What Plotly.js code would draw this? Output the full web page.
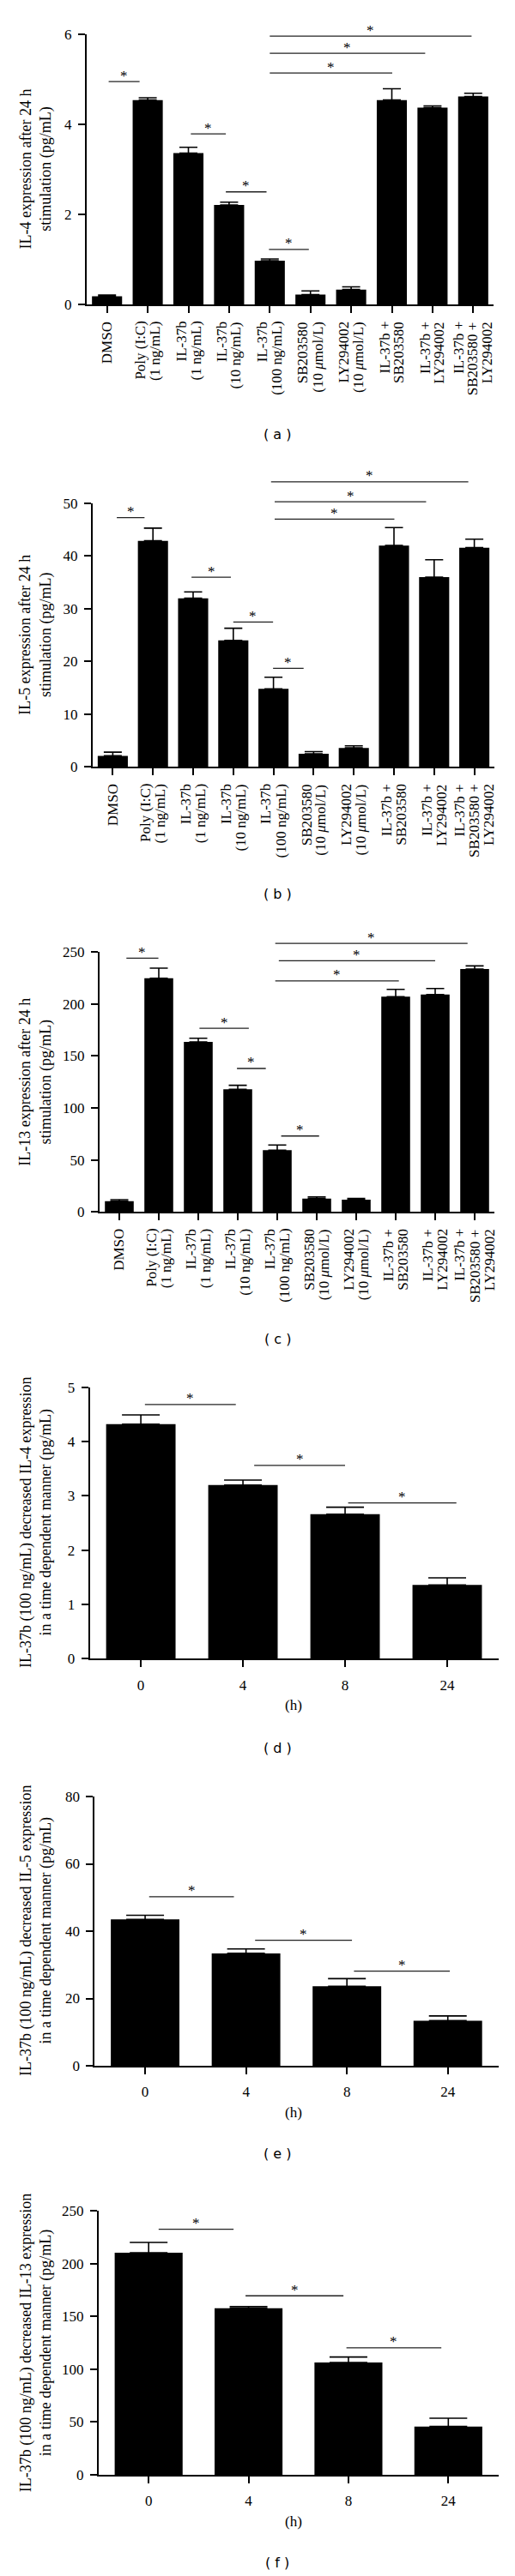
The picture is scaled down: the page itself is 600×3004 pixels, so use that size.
<!DOCTYPE html>
<html>
<head>
<meta charset="utf-8">
<script src="https://cdn.plot.ly/plotly-3.0.1.min.js"></script>
<style>html,body{margin:0;padding:0;background:#fff;}</style>
</head>
<body>
<div id="chart" style="width:600px;height:3004px;"></div>
<script>
// ---------- data ----------
const treatCats = [
  'DMSO',
  'Poly (I:C)<br>(1 ng/mL)',
  'IL-37b<br>(1 ng/mL)',
  'IL-37b<br>(10 ng/mL)',
  'IL-37b<br>(100 ng/mL)',
  'SB203580<br>(10 <i>μ</i>mol/L)',
  'LY294002<br>(10 <i>μ</i>mol/L)',
  'IL-37b +<br>SB203580',
  'IL-37b +<br>LY294002',
  'IL-37b +<br>SB203580 +<br>LY294002'
];
const il4Mean  = [0.18, 4.54, 3.36, 2.21, 0.97, 0.22, 0.33, 4.54, 4.37, 4.62];
const il4Err   = [0.03, 0.05, 0.13, 0.06, 0.04, 0.08, 0.06, 0.25, 0.04, 0.07];
const il5Mean  = [2.1, 42.9, 32.0, 24.0, 14.8, 2.5, 3.6, 42.0, 36.0, 41.6];
const il5Err   = [0.7, 2.4, 1.2, 2.3, 2.2, 0.4, 0.4, 3.4, 3.3, 1.6];
const il13Mean = [10.4, 224.7, 163.4, 117.9, 59.3, 12.9, 11.8, 206.9, 209.0, 233.5];
const il13Err  = [1.4, 9.6, 3.6, 3.8, 5.0, 1.6, 1.1, 7.1, 5.8, 3.0];

const timeCats = ['0', '4', '8', '24'];
const tIl4Mean  = [4.32, 3.20, 2.66, 1.36];
const tIl4Err   = [0.17, 0.09, 0.13, 0.13];
const tIl5Mean  = [43.5, 33.4, 23.6, 13.4];
const tIl5Err   = [1.2, 1.3, 2.3, 1.4];
const tIl13Mean = [210.4, 157.9, 106.4, 45.8];
const tIl13Err  = [9.8, 1.6, 5.2, 7.8];

// significance brackets: [from category index, to category index, value]
const sigIl4  = [[0.04,0.80,4.95],[2.06,2.92,3.79],[2.92,3.92,2.50],[3.98,4.96,1.22],[4.0,7.01,5.14],[4.0,7.82,5.58],[4.0,8.96,5.96]];
const sigIl5  = [[0.10,0.79,47.3],[1.96,2.94,36.0],[3.0,3.99,27.5],[3.99,4.75,18.7],[4.03,7.01,47.0],[4.03,7.80,50.3],[3.94,8.85,54.1]];
const sigIl13 = [[0.18,0.99,244],[2.03,3.28,176.6],[2.98,3.71,137.9],[4.10,5.06,73],[3.95,7.08,222],[4.04,8.0,241.5],[3.95,8.82,258.2]];
const sigT4   = [[0.04,0.93,4.68],[1.11,2.0,3.56],[2.03,3.09,2.87]];
const sigT5   = [[0.04,0.88,50.2],[1.09,2.05,37.3],[2.07,3.02,28.1]];
const sigT13  = [[0.10,0.85,232.6],[0.97,1.95,169.6],[1.98,2.93,120.3]];

const yTitles = [
  'IL-4 expression after 24 h<br>stimulation (pg/mL)',
  'IL-5 expression after 24 h<br>stimulation (pg/mL)',
  'IL-13 expression after 24 h<br>stimulation (pg/mL)',
  'IL-37b (100 ng/mL) decreased IL-4 expression<br>in a time dependent manner (pg/mL)',
  'IL-37b (100 ng/mL) decreased IL-5 expression<br>in a time dependent manner (pg/mL)',
  'IL-37b (100 ng/mL) decreased IL-13 expression<br>in a time dependent manner (pg/mL)'
];
const panelLabels = ['( a )', '( b )', '( c )', '( d )', '( e )', '( f )'];
const yTop   = [6, 50, 250, 5, 80, 250];
const yDtick = [2, 10, 50, 1, 20, 50];

// ---------- layout geometry (pixels) ----------
const W = 600, H = 3004;
const panels = [
  {cats: treatCats, mean: il4Mean,  err: il4Err,  sig: sigIl4,  L:101,   R:575,   T:40,     B:355,    bw:0.74, cap:10.5, rot:true,  label:506.7,  h:null},
  {cats: treatCats, mean: il5Mean,  err: il5Err,  sig: sigIl5,  L:108,   R:576,   T:587,    B:894.3,  bw:0.75, cap:10.5, rot:true,  label:1042.7, h:null},
  {cats: treatCats, mean: il13Mean, err: il13Err, sig: sigIl13, L:116,   R:576,   T:1110,   B:1413.3, bw:0.73, cap:10.5, rot:true,  label:1561.7, h:null},
  {cats: timeCats,  mean: tIl4Mean, err: tIl4Err, sig: sigT4,   L:104.6, R:580.5, T:1617.7, B:1934.3, bw:0.68, cap:22,   rot:false, label:2038.3, h:1988},
  {cats: timeCats,  mean: tIl5Mean, err: tIl5Err, sig: sigT5,   L:110.3, R:580.5, T:2095,   B:2409,   bw:0.68, cap:22,   rot:false, label:2511.7, h:2463},
  {cats: timeCats,  mean: tIl13Mean,err: tIl13Err,sig: sigT13,  L:115,   R:580.5, T:2578.3, B:2886,   bw:0.68, cap:22,   rot:false, label:2988.3, h:2940}
];

const serif = 'Liberation Serif, Times New Roman, serif';
const traces = [];
const layout = {
  width: W, height: H,
  margin: {l:0, r:0, t:0, b:0},
  paper_bgcolor: '#fff', plot_bgcolor: '#fff',
  showlegend: false,
  font: {family: serif, size: 17, color: '#000'},
  shapes: [], annotations: []
};

panels.forEach((p, i) => {
  const n = i + 1;
  const xa = n === 1 ? 'x' : 'x' + n;
  const ya = n === 1 ? 'y' : 'y' + n;
  const xKey = n === 1 ? 'xaxis' : 'xaxis' + n;
  const yKey = n === 1 ? 'yaxis' : 'yaxis' + n;
  const nc = p.cats.length;
  const xr = [-0.5, nc - 0.5];
  const yr = [0, yTop[i]];
  // data -> pixel helpers for this panel
  const xPx = v => p.L + (v - xr[0]) / (xr[1] - xr[0]) * (p.R - p.L);
  const yPx = v => p.B - (v - yr[0]) / (yr[1] - yr[0]) * (p.B - p.T);

  traces.push({
    type: 'bar', x: p.cats, y: p.mean, xaxis: xa, yaxis: ya,
    width: p.bw,
    marker: {color: '#000', line: {width: 0}},
    error_y: {type: 'data', symmetric: false, array: p.err, arrayminus: p.err.map(() => 0),
              color: '#000', thickness: 1.6, width: p.cap},
    hoverinfo: 'skip'
  });

  layout[xKey] = {
    domain: [p.L / W, p.R / W], anchor: ya, type: 'category',
    range: xr, showline: true, linewidth: 2, linecolor: '#000',
    ticks: 'outside', ticklen: 8, tickwidth: 2, tickcolor: '#000',
    showticklabels: !p.rot, showgrid: false, zeroline: false,
    ticklabelstandoff: 6,
    tickfont: {family: serif, size: 17, color: '#000'}, fixedrange: true
  };
  layout[yKey] = {
    domain: [1 - p.B / H, 1 - p.T / H], anchor: xa,
    range: yr, tick0: 0, dtick: yDtick[i],
    showline: true, linewidth: 2, linecolor: '#000',
    ticks: 'outside', ticklen: 8, tickwidth: 2, tickcolor: '#000',
    showgrid: false, zeroline: false, ticklabelstandoff: 4,
    tickfont: {family: serif, size: 17, color: '#000'}, fixedrange: true
  };

  // rotated, tightly spaced category labels (one annotation per line)
  if (p.rot) {
    const lineGap = 17;
    p.cats.forEach((c, k) => {
      const lines = c.split('<br>');
      const m = lines.length;
      lines.forEach((ln, j) => {
        layout.annotations.push({
          xref: 'paper', yref: 'paper',
          x: (xPx(k) + (j - (m - 1) / 2) * lineGap) / W,
          y: 1 - (p.B + 19) / H,
          text: ln, textangle: -90, showarrow: false,
          xanchor: 'center', yanchor: 'top', borderpad: 0,
          font: {family: serif, size: 17, color: '#000'}
        });
      });
    });
  }

  // significance brackets + stars (paper refs so nothing is clipped or hidden)
  p.sig.forEach(s => {
    const x0 = xPx(s[0]), x1 = xPx(s[1]), yy = yPx(s[2]);
    layout.shapes.push({
      type: 'line', xref: 'paper', yref: 'paper',
      x0: x0 / W, x1: x1 / W, y0: 1 - yy / H, y1: 1 - yy / H,
      line: {color: '#222', width: 1.3}
    });
    layout.annotations.push({
      xref: 'paper', yref: 'paper', x: ((x0 + x1) / 2) / W, y: 1 - yy / H,
      text: '*', showarrow: false, xanchor: 'center', yanchor: 'middle', yshift: 7,
      font: {family: serif, size: 17, color: '#000'}
    });
  });

  // y-axis title
  layout.annotations.push({
    xref: 'paper', yref: 'paper', x: (i < 3 ? 41 : 42) / W, y: 1 - ((p.T + p.B) / 2) / H,
    text: yTitles[i], textangle: -90, showarrow: false,
    xanchor: 'center', yanchor: 'middle', align: 'center',
    font: {family: serif, size: 18, color: '#000'}
  });

  // x-axis unit label
  if (p.h !== null) {
    layout.annotations.push({
      xref: 'paper', yref: 'paper', x: 342 / W, y: 1 - p.h / H,
      text: '(h)', showarrow: false, xanchor: 'center', yanchor: 'middle',
      font: {family: serif, size: 17, color: '#000'}
    });
  }

  // panel label
  layout.annotations.push({
    xref: 'paper', yref: 'paper', x: 323 / W, y: 1 - p.label / H,
    text: panelLabels[i], showarrow: false, xanchor: 'center', yanchor: 'middle',
    font: {family: 'DejaVu Sans, Verdana, sans-serif', size: 16, color: '#000'}
  });
});

Plotly.newPlot('chart', traces, layout, {displayModeBar: false, staticPlot: true});
</script>
</body>
</html>
